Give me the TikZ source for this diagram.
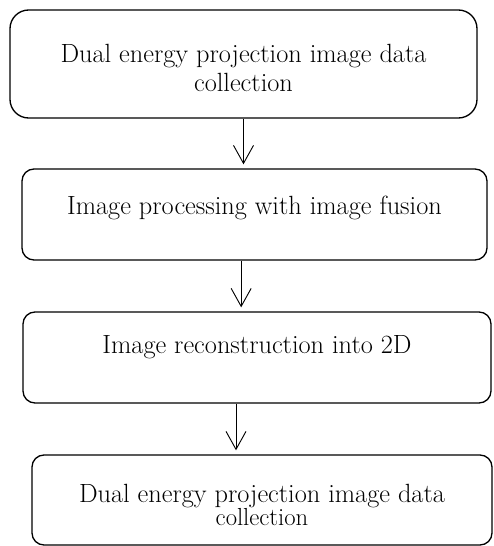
\documentclass[tikz,border=0pt]{standalone}
\usepackage{tikz}
\usetikzlibrary{arrows.meta,positioning}

\begin{document}
\begin{tikzpicture}[
    x=0.75pt,y=-0.75pt,
    font=\fontsize{19.75}{21.75}\selectfont,
    stage/.style={draw,line width=1pt,rounded corners=9pt,align=center,
      inner sep=0pt,minimum height=68.25pt},
    flow/.style={-{Straight Barb[length=13.5pt,width=15pt]},line width=0.7pt,
      shorten >=3pt},
  ]
    \useasboundingbox (0,0) rectangle (493,546);
    % the four stages
    \node[stage,rounded corners=14pt,minimum width=350.25pt,minimum height=81pt]
      (collect) at (243.5,64)
      {\rule{0pt}{20pt}Dual energy projection image data\\collection};
    \node[stage,minimum width=348.75pt,text depth=14.5pt] (fuse) at (254.5,214.5)
      {Image processing with image fusion};
    \node[stage,minimum width=351pt,text depth=19pt] (recon) at (257,357.5)
      {Image reconstruction into 2D};
    \node[stage,minimum width=345pt,minimum height=67.5pt] (final) at (262,500)
      {\rule{0pt}{21pt}Dual energy projection image data\\[-4.5pt]
       {\fontsize{18.5}{17.25}\selectfont collection}};
    % connectors
    \draw[flow] (collect.south) -- (collect.south |- fuse.north);
    \draw[flow] ([xshift=-10pt]fuse.south) -- ([xshift=-10pt]fuse.south |- recon.north);
    \draw[flow] ([xshift=-15.75pt]recon.south) -- ([xshift=-15.75pt]recon.south |- final.north);
\end{tikzpicture}
\end{document}
